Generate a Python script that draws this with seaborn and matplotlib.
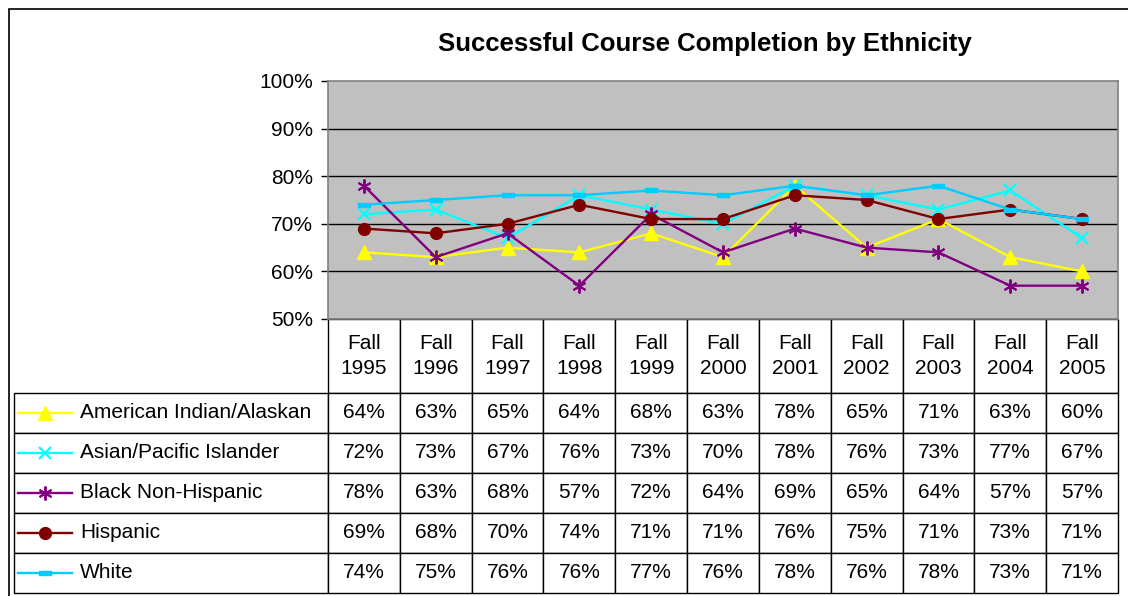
import matplotlib
matplotlib.use("Agg")
import matplotlib.pyplot as plt
import matplotlib.patches as mpatches
import seaborn as sns
import pandas as pd

# data
years = ["Fall\n1995", "Fall\n1996", "Fall\n1997", "Fall\n1998", "Fall\n1999", "Fall\n2000",
         "Fall\n2001", "Fall\n2002", "Fall\n2003", "Fall\n2004", "Fall\n2005"]
groups = ["American Indian/Alaskan", "Asian/Pacific Islander", "Black Non-Hispanic", "Hispanic", "White"]
american_indian = [64, 63, 65, 64, 68, 63, 78, 65, 71, 63, 60]
asian_pacific = [72, 73, 67, 76, 73, 70, 78, 76, 73, 77, 67]
black_non_hispanic = [78, 63, 68, 57, 72, 64, 69, 65, 64, 57, 57]
hispanic = [69, 68, 70, 74, 71, 71, 76, 75, 71, 73, 71]
white = [74, 75, 76, 76, 77, 76, 78, 76, 78, 73, 71]
values = [american_indian, asian_pacific, black_non_hispanic, hispanic, white]

dash = [(-1, -0.3), (1, -0.3), (1, 0.3), (-1, 0.3), (-1, -0.3)]
styles = [
    dict(color="#FFFF00", marker="^", ms=10, mec="#FFFF00", mew=1),
    dict(color="#00FFFF", marker="x", ms=9, mec="#00FFFF", mew=1.6),
    dict(color="#800080", marker=(6, 2, 0), ms=10, mec="#800080", mew=1.4),
    dict(color="#800000", marker="o", ms=8.5, mec="#800000", mew=1),
    dict(color="#00CCFF", marker=dash, ms=9, mec="#00CCFF", mew=1),
]

plt.rcParams["font.family"] = ["Liberation Sans", "DejaVu Sans"]
W, H = 1128, 596
fig = plt.figure(figsize=(W / 100, H / 100), dpi=100)

# plot area in pixel terms
left, right, top, bottom = 328, 1118, 81, 319
aw, ah = right - left, bottom - top
ax = fig.add_axes([left / W, 1 - bottom / H, aw / W, ah / H])
ax.set_facecolor("#C0C0C0")

x = list(range(len(years)))
for name, vals, st in zip(groups, values, styles):
    df = pd.DataFrame({"x": x, "y": vals})
    sns.lineplot(data=df, x="x", y="y", ax=ax, color=st["color"], marker=st["marker"],
                 markersize=st["ms"], markeredgecolor=st["mec"], markeredgewidth=st["mew"],
                 linewidth=1.7, markerfacecolor=st["color"], legend=False)

ax.set_xlim(-0.5, len(years) - 0.5)
ax.set_ylim(50, 100)
ax.set_yticks(range(50, 101, 10))
ax.set_yticklabels([f"{v}%" for v in range(50, 101, 10)], fontsize=15)
ax.set_xticks([])
ax.set_xlabel("")
ax.set_ylabel("")
ax.tick_params(axis="y", length=5, width=1, pad=6, color="black")
for v in range(60, 100, 10):
    ax.axhline(v, color="black", lw=1, zorder=1)
for s in ax.spines.values():
    s.set_color("#808080")
    s.set_linewidth(1.2)

# data table under the plot (bbox covers the value grid, label column hangs to the left)
tab_left = 14
head_h, row_h = 74, 40
tab_h = head_h + row_h * len(groups)
col_w = aw / len(years)
label_w = left - tab_left

cell_text = [[f"{v}%" for v in vals] for vals in values]
tbl = ax.table(cellText=cell_text, colLabels=years, cellLoc="center",
               bbox=[0, -tab_h / ah, 1, tab_h / ah])
tbl.auto_set_font_size(False)
for i, name in enumerate(groups):
    tbl.add_cell(i + 1, -1, width=label_w / aw, height=row_h / ah, text=name, loc="left")
for (r, c), cell in tbl.get_celld().items():
    cell.set_width((label_w if c == -1 else col_w) / aw)
    cell.set_height((head_h if r == 0 else row_h) / ah)
    cell.set_edgecolor("black")
    cell.set_linewidth(1)
    cell.set_facecolor("white")
    if r == 0:
        cell.get_text().set_linespacing(1.45)
    if c == -1:
        cell.PAD = 66 / label_w
tbl.set_fontsize(15)

# legend keys inside the label cells
kx = (tab_left - left) / aw
for i, st in enumerate(styles):
    cy = -(head_h + row_h * i + row_h / 2) / ah
    ax.plot([kx + 4 / aw, kx + 58 / aw], [cy, cy], transform=ax.transAxes, clip_on=False,
            color=st["color"], lw=1.7, zorder=5)
    ax.plot([kx + 31 / aw], [cy], transform=ax.transAxes, clip_on=False,
            color=st["color"], marker=st["marker"], ms=st["ms"], mec=st["mec"],
            mew=st["mew"], linestyle="none", zorder=5)

fig.text(705 / W, 1 - 44 / H, "Successful Course Completion by Ethnicity",
         ha="center", va="center", fontsize=18.5, fontweight="bold")

# chart border
fig.patches.append(mpatches.Rectangle((8.5 / W, -0.1), 1.2, 1.1 - 9.5 / H, transform=fig.transFigure,
                                      fill=False, edgecolor="black", lw=1.2))

fig.savefig("out.png", dpi=100)
